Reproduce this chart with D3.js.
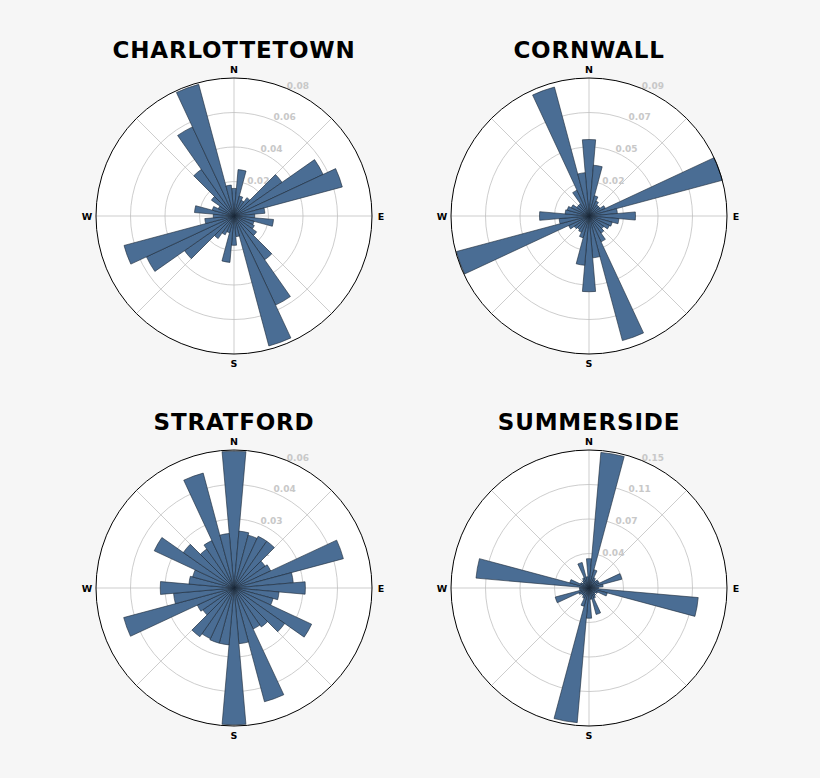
<!DOCTYPE html>
<html>
<head>
<meta charset="utf-8">
<script src="https://cdn.jsdelivr.net/npm/d3@7/dist/d3.min.js"></script>
<style>
  html, body { margin: 0; padding: 0; background: #f6f6f6; }
  svg { display: block; font-family: "DejaVu Sans", sans-serif; }
</style>
</head>
<body>
<svg id="chart" width="820" height="778"></svg>
<script>
// ---- data ----
const directions = [0,10,20,30,40,50,60,70,80,90,100,110,120,130,140,150,160,170,
                    180,190,200,210,220,230,240,250,260,270,280,290,300,310,320,330,340,350];
const compassLabels = ["N", "E", "S", "W"];
const compassAngles = [0, 90, 180, 270];
const gridSpokes = [0, 45, 90, 135, 180, 225, 270, 315];

const stations = ["CHARLOTTETOWN", "CORNWALL", "STRATFORD", "SUMMERSIDE"];

const charlottetown = [0.016,0.027,0.012,0.010,0.013,0.034,0.057,0.065,0.018,0.012,0.023,0.012,
                       0.013,0.016,0.031,0.057,0.078,0.012,0.017,0.027,0.010,0.012,0.016,0.035,
                       0.056,0.066,0.017,0.012,0.023,0.013,0.010,0.016,0.033,0.057,0.079,0.018];
const cornwall = [0.051,0.034,0.014,0.011,0.009,0.009,0.012,0.092,0.019,0.031,0.020,0.016,
                  0.015,0.012,0.014,0.019,0.086,0.028,0.0505,0.033,0.015,0.012,0.011,0.012,
                  0.015,0.0915,0.020,0.033,0.016,0.015,0.013,0.010,0.010,0.019,0.089,0.029];
const stratford = [0.0575,0.024,0.023,0.024,0.024,0.016,0.017,0.0476,0.025,0.030,0.019,0.017,
                   0.036,0.026,0.020,0.019,0.0495,0.0235,0.0575,0.024,0.024,0.0235,0.025,0.016,
                   0.017,0.048,0.0255,0.031,0.019,0.018,0.037,0.026,0.020,0.022,0.050,0.023];
const summerside = [0.031,0.144,0.020,0.012,0.010,0.012,0.012,0.036,0.015,0.010,0.116,0.020,
                    0.010,0.008,0.010,0.012,0.029,0.012,0.032,0.143,0.020,0.012,0.010,0.010,
                    0.012,0.037,0.010,0.010,0.120,0.021,0.010,0.008,0.010,0.012,0.028,0.012];

const seriesValues = [charlottetown, cornwall, stratford, summerside];
const radialMax = [0.08, 0.092, 0.058, 0.146];
const tickLabels = [
  ["0.02", "0.04", "0.06", "0.08"],
  ["0.02", "0.05", "0.07", "0.09"],
  ["0.01", "0.03", "0.04", "0.06"],
  ["0.04", "0.07", "0.11", "0.15"]
];

// ---- layout ----
const centers = [[234, 216], [589, 216], [234, 588], [589, 588]];
const R = 138;
const barColor = "#4a6d94";
const edgeColor = "#1b2838";

const svg = d3.select("#chart");
const toRad = d => d * Math.PI / 180;

stations.forEach((name, i) => {
  const [cx, cy] = centers[i];
  const rmax = radialMax[i];
  const values = seriesValues[i];
  const ticks = tickLabels[i];

  const r = d3.scaleLinear().domain([0, rmax]).range([0, R]);
  const tickVals = ticks.map((t, k) => rmax * (k + 1) / ticks.length);

  const g = svg.append("g").attr("transform", `translate(${cx},${cy})`);

  // title
  svg.append("text")
    .attr("x", cx).attr("y", cy - 158)
    .attr("text-anchor", "middle")
    .attr("font-size", 23).attr("font-weight", "bold")
    .attr("letter-spacing", 0.8)
    .attr("fill", "#000")
    .text(name);

  // plot background
  g.append("circle").attr("r", R).attr("fill", "#fff");

  // grid circles
  g.selectAll("circle.grid").data(tickVals.slice(0, -1)).enter()
    .append("circle").attr("class", "grid")
    .attr("r", d => r(d)).attr("fill", "none")
    .attr("stroke", "#c0c0c0").attr("stroke-width", 0.8);

  // spokes
  g.selectAll("line.spoke").data(gridSpokes).enter()
    .append("line").attr("class", "spoke")
    .attr("x1", 0).attr("y1", 0)
    .attr("x2", d => R * Math.sin(toRad(d)))
    .attr("y2", d => -R * Math.cos(toRad(d)))
    .attr("stroke", "#c0c0c0").attr("stroke-width", 0.8);

  // radial labels at 22.5 deg
  g.selectAll("text.rlabel").data(tickVals).enter()
    .append("text").attr("class", "rlabel")
    .attr("x", d => r(d) * Math.sin(toRad(22.5)))
    .attr("y", d => -r(d) * Math.cos(toRad(22.5)))
    .attr("font-size", 9).attr("font-weight", "bold")
    .attr("fill", "#c8c8c8")
    .text((d, k) => ticks[k]);

  // bars
  const arc = d3.arc()
    .innerRadius(0)
    .outerRadius(d => r(d.v))
    .startAngle(d => toRad(d.dir - 5))
    .endAngle(d => toRad(d.dir + 5));

  g.selectAll("path.bar")
    .data(directions.map((dir, k) => ({ dir, v: values[k] })))
    .enter().append("path").attr("class", "bar")
    .attr("d", arc)
    .attr("fill", barColor)
    .attr("stroke", edgeColor).attr("stroke-width", 0.6);

  // outer frame
  g.append("circle").attr("r", R).attr("fill", "none")
    .attr("stroke", "#000").attr("stroke-width", 1);

  // compass labels
  g.selectAll("text.compass").data(compassLabels).enter()
    .append("text").attr("class", "compass")
    .attr("x", (d, k) => (R + 9) * Math.sin(toRad(compassAngles[k])))
    .attr("y", (d, k) => -(R + 9) * Math.cos(toRad(compassAngles[k])))
    .attr("text-anchor", "middle")
    .attr("dominant-baseline", "central")
    .attr("font-size", 9.5).attr("font-weight", "bold")
    .attr("fill", "#000")
    .text(d => d);
});
</script>
</body>
</html>
